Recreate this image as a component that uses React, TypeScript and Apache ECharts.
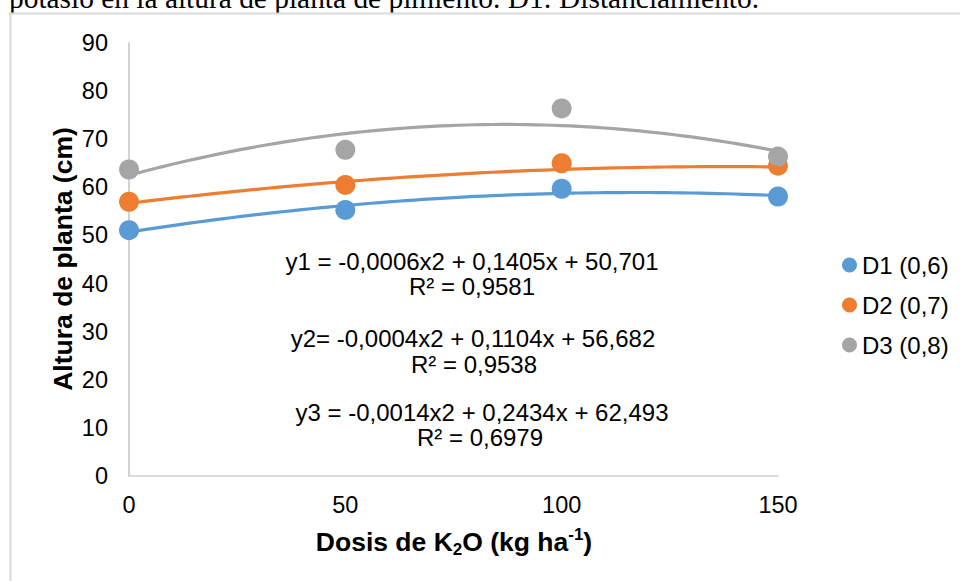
import React, { useEffect, useRef } from "react";
import * as echarts from "echarts";

// ---------- data ----------
const doses = [0, 50, 100, 150];
const seriesNames = ["D1 (0,6)", "D2 (0,7)", "D3 (0,8)"];
const d1Heights = [51.1, 55.3, 59.7, 58.1];
const d2Heights = [57.0, 60.5, 65.0, 64.5];
const d3Heights = [63.7, 67.8, 76.4, 66.4];
// polynomial trendline coefficients as printed on the chart (a·x² + b·x + c)
const trendD1 = [-0.0006, 0.1405, 50.701];
const trendD2 = [-0.0004, 0.1104, 56.682];
const trendD3 = [-0.0014, 0.2434, 62.493];
const equationLabels = [
  "y1 = -0,0006x2 + 0,1405x + 50,701",
  "y2= -0,0004x2 + 0,1104x + 56,682",
  "y3 = -0,0014x2 + 0,2434x + 62,493",
];
const r2Labels = ["R² = 0,9581", "R² = 0,9538", "R² = 0,6979"];
const captionText = "potasio en la altura de planta de pimiento. D1: Distanciamiento.";
const yAxisTitle = "Altura de planta (cm)";
const xAxisTitleParts = ["Dosis de K", "2", "O (kg ha", "-1", ")"];

// ---------- styling / layout ----------
const colors = ["#5B9BD5", "#ED7D31", "#A5A5A5"];
const SANS = '"Liberation Sans", Arial, sans-serif';
const SERIF = '"Liberation Serif", "Times New Roman", serif';
const eqPositions = [
  [472, 261, 472, 286],
  [473, 338, 474, 364],
  [482, 412, 480, 437],
];

function trendPoints(coef: number[]): number[][] {
  const pts: number[][] = [];
  for (let x = 0; x <= 150; x += 2) {
    pts.push([x, coef[0] * x * x + coef[1] * x + coef[2]]);
  }
  return pts;
}

export default function App() {
  const ref = useRef<HTMLDivElement>(null);

  useEffect(() => {
    if (!ref.current) return;
    const chart = echarts.init(ref.current, undefined, { renderer: "svg" });
    const heights = [d1Heights, d2Heights, d3Heights];
    const trends = [trendD1, trendD2, trendD3];

    const scatterSeries = heights.map((h, i) => ({
      type: "scatter",
      name: seriesNames[i],
      data: doses.map((x, j) => [x, h[j]]),
      symbol: "circle",
      symbolSize: 20,
      itemStyle: { color: colors[i], opacity: 1 },
      z: 2,
      silent: true,
    }));
    const lineSeries = trends.map((c, i) => ({
      type: "line",
      name: "Tendencia " + seriesNames[i],
      data: trendPoints(c),
      showSymbol: false,
      symbol: "none",
      smooth: false,
      lineStyle: { color: colors[i], width: 3.2 },
      itemStyle: { color: colors[i] },
      z: 3,
      silent: true,
    }));

    const eqGraphics: any[] = [];
    equationLabels.forEach((t, i) => {
      const p = eqPositions[i];
      eqGraphics.push({
        type: "text",
        x: p[0],
        y: p[1],
        z: 10,
        style: {
          text: t,
          fontSize: 24,
          fontFamily: SANS,
          fill: "#000",
          align: "center",
          verticalAlign: "middle",
        },
      });
      eqGraphics.push({
        type: "text",
        x: p[2],
        y: p[3],
        z: 10,
        style: {
          text: r2Labels[i],
          fontSize: 24,
          fontFamily: SANS,
          fill: "#000",
          align: "center",
          verticalAlign: "middle",
        },
      });
    });

    const option: any = {
      animation: false,
      backgroundColor: "#fff",
      grid: {
        left: 129,
        right: 182,
        top: 43,
        bottom: 105,
        containLabel: false,
        outerBoundsMode: "none",
      },
      xAxis: {
        type: "value",
        min: 0,
        max: 150,
        interval: 50,
        axisLine: { show: true, onZero: false, lineStyle: { color: "#CFCFCF", width: 1.5 } },
        axisTick: { show: false },
        splitLine: { show: false },
        axisLabel: {
          fontSize: 23.5,
          lineHeight: 24,
          color: "#000",
          fontFamily: SANS,
          margin: 17,
        },
      },
      yAxis: {
        type: "value",
        min: 0,
        max: 90,
        interval: 10,
        axisLine: { show: true, lineStyle: { color: "#C4C4C4", width: 1.5 } },
        axisTick: { show: false },
        splitLine: { show: false },
        axisLabel: {
          fontSize: 23.5,
          color: "#000",
          fontFamily: SANS,
          margin: 21,
        },
      },
      legend: {
        data: seriesNames,
        orient: "vertical",
        left: 837,
        top: 248,
        itemWidth: 15,
        itemHeight: 15,
        itemGap: 16,
        icon: "circle",
        selectedMode: false,
        textStyle: { fontSize: 24, lineHeight: 24, color: "#000", fontFamily: SANS },
      },
      graphic: {
        elements: [
          {
            type: "text",
            x: 9,
            y: -2.5,
            z: -20,
            style: {
              text: captionText,
              fontSize: 29.4,
              fontFamily: SERIF,
              fill: "#000",
              align: "left",
              verticalAlign: "middle",
            },
          },
          {
            type: "rect",
            z: -10,
            shape: { x: 10.5, y: 13.5, width: 1000, height: 1000 },
            style: { fill: "#fff", stroke: "#D9D9D9", lineWidth: 2 },
          },
          {
            type: "text",
            x: 63,
            y: 259,
            rotation: Math.PI / 2,
            z: 10,
            style: {
              text: yAxisTitle,
              fontSize: 26.5,
              fontWeight: "bold",
              fontFamily: SANS,
              fill: "#000",
              align: "center",
              verticalAlign: "middle",
            },
          },
          {
            type: "text",
            x: 454,
            y: 542,
            z: 10,
            style: {
              text:
                "{b|" + xAxisTitleParts[0] + "}{s|" + xAxisTitleParts[1] + "}{b|" +
                xAxisTitleParts[2] + "}{p|" + xAxisTitleParts[3] + "}{b|" + xAxisTitleParts[4] + "}",
              align: "center",
              verticalAlign: "middle",
              rich: {
                b: { fontSize: 26.5, fontWeight: "bold", fontFamily: SANS, fill: "#000", lineHeight: 32 },
                s: { fontSize: 17, fontWeight: "bold", fontFamily: SANS, fill: "#000", lineHeight: 14, verticalAlign: "bottom" },
                p: { fontSize: 17, fontWeight: "bold", fontFamily: SANS, fill: "#000", lineHeight: 22, verticalAlign: "top" },
              },
            },
          },
          ...eqGraphics,
        ],
      },
      series: [...scatterSeries, ...lineSeries],
    };
    chart.setOption(option);
    return () => chart.dispose();
  }, []);

  return (
    <div
      ref={ref}
      style={{ position: "fixed", left: 0, top: 0, width: 960, height: 581, background: "#fff" }}
    />
  );
}
